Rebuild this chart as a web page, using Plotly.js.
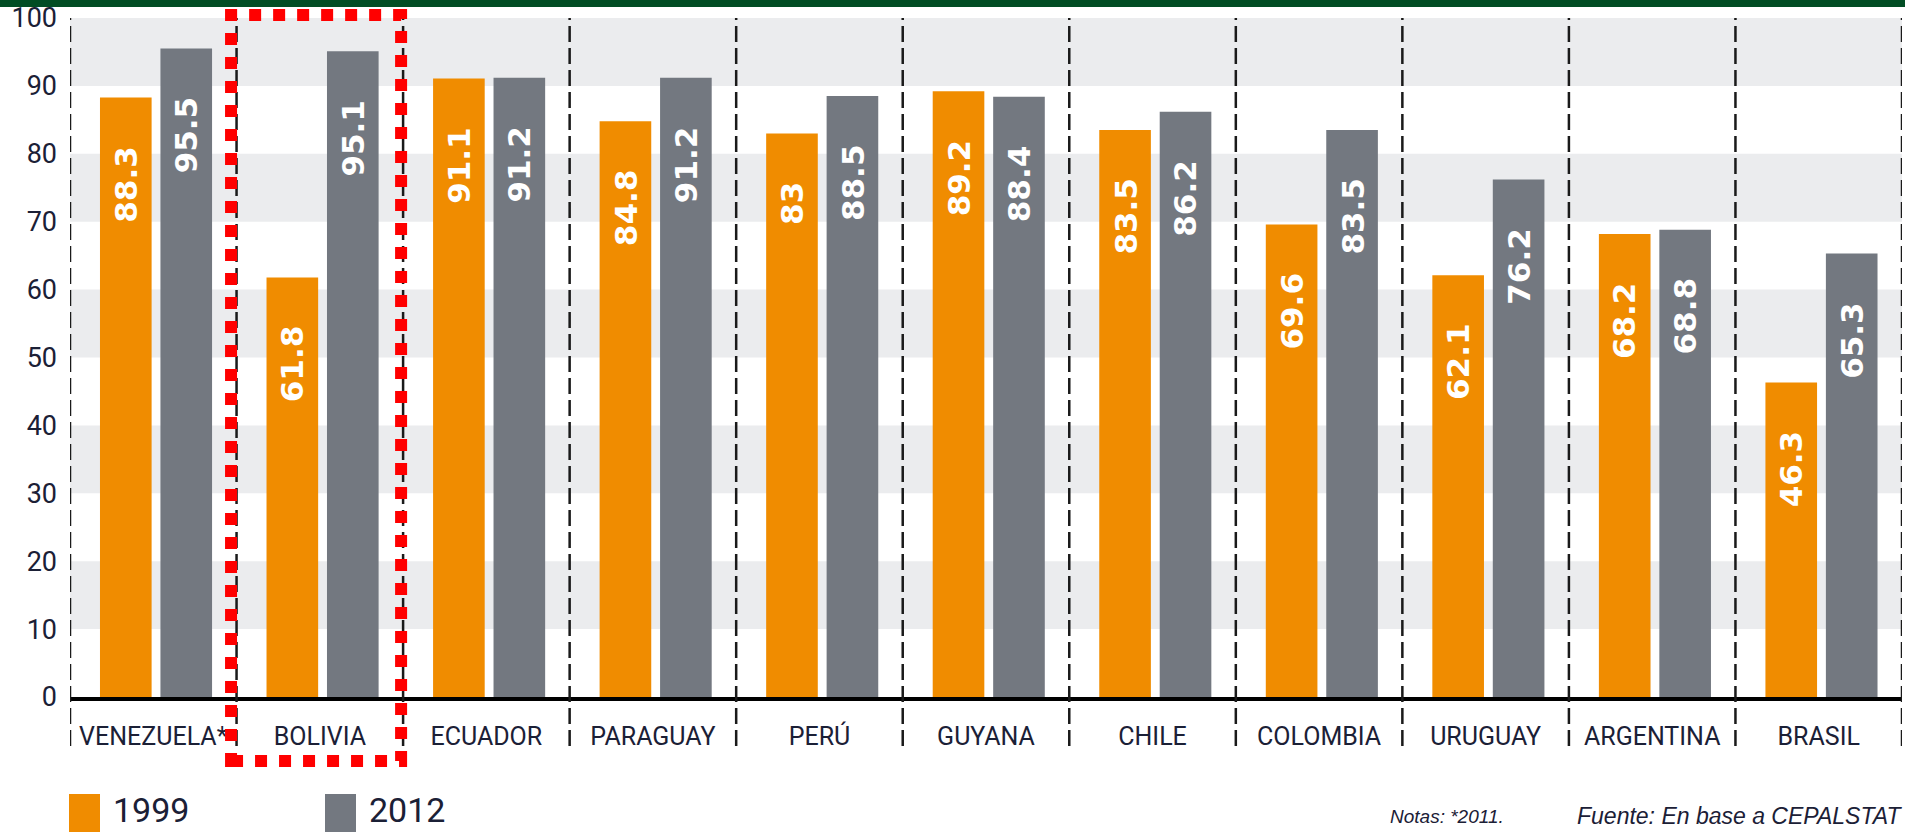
<!DOCTYPE html>
<html>
<head>
<meta charset="utf-8">
<script src="https://cdn.plot.ly/plotly-3.0.1.min.js"></script>
<style>
  html, body { margin: 0; padding: 0; background: #fff; }
  #chart { width: 1905px; height: 832px; }
</style>
</head>
<body>
<div id="chart"></div>
<script>
// ---- data ----
const countries = ["VENEZUELA*", "BOLIVIA", "ECUADOR", "PARAGUAY", "PERÚ", "GUYANA", "CHILE", "COLOMBIA", "URUGUAY", "ARGENTINA", "BRASIL"];
const values1999 = [88.3, 61.8, 91.1, 84.8, 83, 89.2, 83.5, 69.6, 62.1, 68.2, 46.3];
const values2012 = [95.5, 95.1, 91.2, 91.2, 88.5, 88.4, 86.2, 83.5, 76.2, 68.8, 65.3];
const seriesNames = ["1999", "2012"];
const yTicks = [0, 10, 20, 30, 40, 50, 60, 70, 80, 90, 100];
const noteText = "Notas: *2011.";
const sourceText = "Fuente: En base a CEPALSTAT";

// ---- styling ----
const W = 1905, H = 832;
const M = {l: 70, r: 3, t: 18, b: 135};
const plotW = W - M.l - M.r, plotH = H - M.t - M.b;
const px2x = p => (p - M.l) / plotW;
const px2y = p => (H - M.b - p) / plotH;

const orange = "#f08c00", gray = "#737880";
const textColor = "#1b2036";
const barW = 0.31;
const offs = [-0.32, 0.043];
const colors = [orange, gray];
const allValues = [values1999, values2012];

const traces = allValues.map((vals, k) => ({
  type: "bar",
  name: seriesNames[k],
  x: countries,
  y: vals,
  width: barW,
  offset: offs[k],
  marker: {color: colors[k], line: {width: 0}},
  showlegend: false,
  hoverinfo: "x+y+name"
}));

const shapes = [];
// alternating grey bands
for (let i = 0; i < yTicks.length - 1; i++) {
  if (i % 2 === 1) {
    shapes.push({type: "rect", xref: "paper", yref: "y", x0: 0, x1: 1,
      y0: yTicks[i], y1: yTicks[i + 1], fillcolor: "#ebecee", line: {width: 0}, layer: "below"});
  }
}
// dashed category separators
for (let i = 0; i <= countries.length; i++) {
  shapes.push({type: "line", xref: "x", yref: "paper", x0: i - 0.5, x1: i - 0.5,
    y0: px2y(746), y1: 1, line: {color: "#1a1a1a", width: 2.5, dash: "16px,6px"}, layer: "above"});
}
// top green band
shapes.push({type: "rect", xref: "paper", yref: "paper", x0: -0.06, x1: 1.01,
  y0: px2y(7), y1: px2y(-5), fillcolor: "#014d24", line: {width: 0}});
// red dotted highlight around Bolivia
const hiIdx = countries.indexOf("BOLIVIA");
shapes.push({type: "rect", xref: "x", yref: "paper",
  x0: hiIdx - 0.533, x1: hiIdx + 0.488, y0: px2y(761), y1: px2y(15),
  line: {color: "#ff0000", width: 12, dash: "dot"}, fillcolor: "rgba(0,0,0,0)", layer: "above"});
// legend swatches
const swX = [69, 325];
seriesNames.forEach((n, k) => {
  shapes.push({type: "rect", xref: "paper", yref: "paper",
    x0: px2x(swX[k]), x1: px2x(swX[k] + 31), y0: px2y(845), y1: px2y(794),
    fillcolor: colors[k], line: {width: 0}});
});

const annotations = [];
allValues.forEach((vals, k) => {
  vals.forEach((v, i) => {
    annotations.push({
      xref: "x", yref: "y", x: i + offs[k] + barW / 2, y: v,
      text: String(v), showarrow: false, textangle: -90,
      yanchor: "top", xanchor: "center", yshift: -46,
      font: {family: "DejaVu Sans", size: 31, color: "#ffffff", weight: "bold"}
    });
  });
});
seriesNames.forEach((n, k) => {
  annotations.push({xref: "paper", yref: "paper", x: px2x(swX[k] + 42), y: px2y(810),
    xanchor: "left", yanchor: "middle", text: n, showarrow: false,
    font: {family: "Liberation Sans Narrow, Roboto, sans-serif", size: 34, color: textColor}});
});
annotations.push({xref: "paper", yref: "paper", x: px2x(1388), y: px2y(816),
  xanchor: "left", yanchor: "middle", text: "<i>" + noteText + "</i>", showarrow: false,
  font: {family: "Liberation Sans, Arial, sans-serif", size: 19, color: textColor}});
annotations.push({xref: "paper", yref: "paper", x: px2x(1904), y: px2y(816),
  xanchor: "right", yanchor: "middle", text: "<i>" + sourceText + "</i>", showarrow: false,
  font: {family: "Liberation Sans, Arial, sans-serif", size: 23, color: textColor}});

const layout = {
  width: W, height: H,
  margin: M,
  paper_bgcolor: "#ffffff", plot_bgcolor: "#ffffff",
  barmode: "overlay",
  showlegend: false,
  xaxis: {
    type: "category", range: [-0.5, countries.length - 0.5],
    showgrid: false, zeroline: false,
    showline: true, linecolor: "#000000", linewidth: 4,
    ticks: "", ticklabelstandoff: 14,
    tickfont: {family: "Liberation Sans Narrow, Roboto, sans-serif", size: 25, color: textColor}
  },
  yaxis: {
    range: [0, 100], tickvals: yTicks, ticktext: yTicks.map(String),
    showgrid: false, zeroline: false, showline: false,
    ticks: "", ticklabelstandoff: 12,
    tickfont: {family: "Liberation Sans Narrow, Roboto, sans-serif", size: 27, color: textColor}
  },
  shapes: shapes,
  annotations: annotations
};

Plotly.newPlot("chart", traces, layout, {displayModeBar: false, staticPlot: true});
</script>
</body>
</html>
